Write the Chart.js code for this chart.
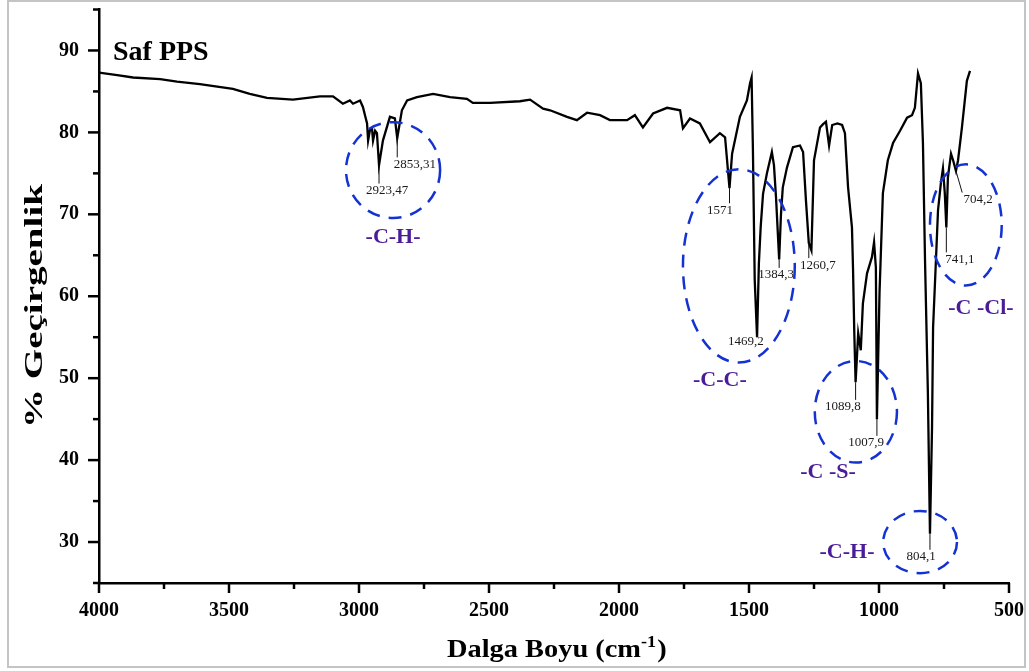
<!DOCTYPE html>
<html>
<head>
<meta charset="utf-8">
<script src="https://cdn.jsdelivr.net/npm/chart.js@4/dist/chart.umd.min.js"></script>
<style>
  html, body { margin: 0; padding: 0; background: #fff; }
  #chartBox { width: 1029px; height: 671px; }
</style>
</head>
<body>
<div id="chartBox"><canvas id="ftirChart" width="1029" height="671"></canvas></div>
<script>
// Spectrum (wavenumber in cm-1, transmittance in %)
var wavenumbers = [
  4000, 3930, 3869, 3765, 3700, 3612, 3485, 3420, 3354, 3254, 3150, 3100, 3062, 3035, 3023,
  2996, 2985, 2969, 2965, 2958, 2950, 2946, 2938, 2931, 2923, 2908, 2881, 2862, 2853, 2835,
  2815, 2777, 2715, 2650, 2585, 2562, 2496, 2381, 2342, 2292, 2265, 2200, 2162, 2123, 2073,
  2035, 1969, 1939, 1908, 1869, 1815, 1765, 1754, 1727, 1689, 1650, 1612, 1592, 1575, 1565,
  1535, 1508, 1496, 1490, 1485, 1478, 1469, 1462, 1455, 1446, 1431, 1412, 1404, 1396, 1384,
  1377, 1370, 1354, 1331, 1304, 1292, 1281, 1270, 1260, 1250, 1227, 1215, 1204, 1192, 1180,
  1160, 1142, 1131, 1119, 1104, 1100, 1095, 1090, 1080, 1070, 1062, 1046, 1027, 1019, 1012,
  1008, 998, 985, 966, 946, 919, 892, 873, 862, 850, 839, 831, 823, 812, 804,
  796, 792, 781, 773, 762, 754, 747, 741, 735, 723, 715, 704, 696, 681, 662, 650
];
var transmittance = [
  87.3, 87.0, 86.7, 86.5, 86.2, 85.9, 85.3, 84.7, 84.2, 84.0, 84.4, 84.4, 83.5, 83.9, 83.5,
  83.9, 83.1, 81.1, 79.0, 80.3, 80.5, 79.0, 80.2, 79.9, 76.0, 79.0, 81.9, 81.7, 79.3, 82.7,
  83.9, 84.3, 84.7, 84.3, 84.1, 83.6, 83.6, 83.8, 84.0, 82.9, 82.7, 81.9, 81.5, 82.4, 82.1,
  81.5, 81.5, 82.1, 80.6, 82.3, 83.0, 82.7, 80.5, 81.7, 81.1, 78.8, 79.9, 79.4, 73.2, 77.4,
  81.9, 83.9, 86.0, 86.7, 78.0, 62.0, 55.0, 64.0, 68.5, 72.5, 75.0, 77.6, 76.0, 72.0, 64.5,
  70.0, 73.3, 75.7, 78.2, 78.4, 77.6, 71.7, 66.5, 65.6, 76.6, 80.6, 81.0, 81.3, 78.4, 80.9,
  81.1, 80.9, 79.9, 73.3, 68.4, 63.5, 55.5, 49.5, 55.5, 53.4, 59.1, 62.8, 64.8, 66.6, 63.5,
  45.0, 60.4, 72.6, 76.6, 78.7, 80.2, 81.8, 82.1, 83.0, 87.2, 86.0, 78.7, 64.4, 48.2, 31.0,
  44.0, 56.2, 64.4, 70.5, 73.8, 75.6, 72.6, 68.4, 74.5, 77.4, 76.6, 75.3, 76.6, 80.6, 86.3, 87.5
];

// Axis settings
var xMin = 500, xMax = 4000, xStep = 500, xMinorStep = 250;
var yMin = 25, yMax = 95, yStep = 5, yLabelStep = 10;

// Peak labels: text, dip wavenumber, dip %T, label wavenumber, label %T, leader end wavenumber
var peakText  = ['2923,47', '2853,31', '1571', '1469,2', '1384,3', '1260,7', '1089,8', '1007,9', '804,1', '741,1', '704,2'];
var peakDipX  = [2923, 2853, 1575, 1469, 1384, 1270, 1090, 1008, 804, 741, 704];
var peakDipY  = [76.0, 79.3, 73.2, 55.0, 64.5, 66.5, 49.5, 45.0, 31.0, 68.4, 75.3];
var peakLabX  = [2892, 2785, 1612, 1512, 1396, 1235, 1139, 1050, 838, 689, 619];
var peakLabY  = [72.9, 76.1, 70.5, 54.5, 62.6, 63.8, 46.5, 42.1, 28.2, 64.5, 71.8];
var peakLineX = [2923, 2853, 1575, 1469, 1384, 1270, 1090, 1008, 804, 741, 680];

// Dashed ellipses (centre and radii in axis units) with group names
var groupText = ['-C-H-', '-C-C-', '-C -S-', '-C-H-', '-C -Cl-'];
var ellCx = [2869, 1539, 1089, 842, 666];
var ellCy = [75.4, 63.7, 45.9, 30.0, 68.7];
var ellRx = [181, 215, 158, 142, 138];
var ellRy = [5.85, 11.8, 6.2, 3.8, 7.4];
var groupX = [2869, 1612, 1196, 1123, 608];
var groupY = [67.2, 49.8, 38.5, 28.8, 58.5];

var serif = '"Liberation Serif", "Times New Roman", serif';

var points = wavenumbers.map(function(w, i) { return { x: w, y: transmittance[i] }; });

// draw text squeezed/stretched horizontally
function stretchText(ctx, text, x, y, sx) {
  ctx.save();
  ctx.translate(x, y);
  ctx.scale(sx, 1);
  ctx.fillText(text, 0, 0);
  ctx.restore();
}

var framePlugin = {
  id: 'frame',
  beforeDraw: function(chart) {
    var ctx = chart.ctx;
    ctx.save();
    ctx.fillStyle = '#fff';
    ctx.fillRect(0, 0, chart.width, chart.height);
    ctx.strokeStyle = '#c4c4c4';
    ctx.lineWidth = 2;
    ctx.strokeRect(8, 1, 1017, 666);
    ctx.restore();
  }
};

var decorPlugin = {
  id: 'decor',
  afterDraw: function(chart) {
    var ctx = chart.ctx;
    var xs = chart.scales.x, ys = chart.scales.y;
    var area = chart.chartArea;
    ctx.save();

    // tick marks (outside, major + minor)
    ctx.strokeStyle = '#000';
    ctx.lineWidth = 2.5;
    for (var v = xMin; v <= xMax; v += xMinorStep) {
      var px = xs.getPixelForValue(v);
      var len = (v % xStep === 0) ? 10 : 6;
      ctx.beginPath();
      ctx.moveTo(px, area.bottom);
      ctx.lineTo(px, area.bottom + len);
      ctx.stroke();
    }
    for (var t = yMin; t <= yMax; t += yStep) {
      var py = ys.getPixelForValue(t);
      var l = (t % yLabelStep === 0) ? 11 : 6;
      ctx.beginPath();
      ctx.moveTo(area.left, py);
      ctx.lineTo(area.left - l, py);
      ctx.stroke();
    }

    // axis titles
    ctx.fillStyle = '#000';
    ctx.font = 'bold 26px ' + serif;
    ctx.textAlign = 'center';
    ctx.textBaseline = 'middle';
    var yTitle = '% Geçirgenlik';
    var yw = ctx.measureText(yTitle).width;
    ctx.save();
    ctx.translate(35, 306);
    ctx.rotate(-Math.PI / 2);
    ctx.scale(244 / yw, 1);
    ctx.fillText(yTitle, 0, 0);
    ctx.restore();

    ctx.textAlign = 'left';
    ctx.textBaseline = 'alphabetic';
    ctx.font = 'bold 25px ' + serif;
    var part1 = 'Dalga Boyu (cm';
    var w1 = ctx.measureText(part1).width;
    var sx = 194 / w1;
    stretchText(ctx, part1, 447, 657, sx);
    ctx.font = 'bold 16px ' + serif;
    var sup = '-1';
    var w2 = ctx.measureText(sup).width;
    stretchText(ctx, sup, 447 + w1 * sx, 647, sx);
    ctx.font = 'bold 25px ' + serif;
    stretchText(ctx, ')', 447 + w1 * sx + w2 * sx + 1, 657, sx);

    // sample name
    ctx.font = 'bold 28px ' + serif;
    ctx.fillText('Saf PPS', 113, 60);

    // leader lines and peak labels
    ctx.lineWidth = 1;
    ctx.strokeStyle = '#111';
    ctx.font = '13px ' + serif;
    ctx.textAlign = 'center';
    ctx.textBaseline = 'middle';
    ctx.fillStyle = '#1a1a1a';
    for (var i = 0; i < peakText.length; i++) {
      var dx = xs.getPixelForValue(peakDipX[i]);
      var dy = ys.getPixelForValue(peakDipY[i]);
      var lx = xs.getPixelForValue(peakLabX[i]);
      var ly = ys.getPixelForValue(peakLabY[i]);
      var ex = xs.getPixelForValue(peakLineX[i]);
      ctx.beginPath();
      ctx.moveTo(dx, dy);
      ctx.lineTo(ex, ly - 7);
      ctx.stroke();
      ctx.fillText(peakText[i], lx, ly);
    }

    // dashed ellipses
    ctx.strokeStyle = '#1432d2';
    ctx.lineWidth = 2.5;
    ctx.setLineDash([13, 9]);
    for (var k = 0; k < ellCx.length; k++) {
      var cx = xs.getPixelForValue(ellCx[k]);
      var cy = ys.getPixelForValue(ellCy[k]);
      var rx = Math.abs(xs.getPixelForValue(ellCx[k] - ellRx[k]) - cx);
      var ry = Math.abs(ys.getPixelForValue(ellCy[k] + ellRy[k]) - cy);
      ctx.beginPath();
      ctx.ellipse(cx, cy, rx, ry, 0, 0, Math.PI * 2);
      ctx.stroke();
    }
    ctx.setLineDash([]);

    // group names
    ctx.font = 'bold 22px ' + serif;
    ctx.fillStyle = '#4a1c98';
    for (var g = 0; g < groupText.length; g++) {
      ctx.fillText(groupText[g], xs.getPixelForValue(groupX[g]), ys.getPixelForValue(groupY[g]));
    }

    ctx.restore();
  }
};

var ctx = document.getElementById('ftirChart').getContext('2d');
var chart = new Chart(ctx, {
  type: 'line',
  data: {
    datasets: [{
      label: 'Saf PPS',
      data: points,
      borderColor: '#000',
      borderWidth: 2.3,
      pointRadius: 0,
      tension: 0,
      fill: false
    }]
  },
  options: {
    responsive: false,
    animation: false,
    devicePixelRatio: 1,
    layout: { padding: { top: 9.5, right: 20, bottom: 0, left: 0 } },
    plugins: {
      legend: { display: false },
      tooltip: { enabled: false }
    },
    scales: {
      x: {
        type: 'linear',
        reverse: true,
        min: xMin,
        max: xMax,
        afterFit: function(s) {
          s.height = 88;
          s.paddingLeft = 0; s.paddingRight = 0;
        },
        grid: { display: false, drawTicks: false },
        border: { display: true, color: '#000', width: 2.5 },
        ticks: {
          stepSize: xStep,
          maxRotation: 0,
          padding: 16,
          color: '#000',
          font: { family: serif, size: 20, weight: 'bold' },
          callback: function(value) { return String(value); }
        }
      },
      y: {
        min: yMin,
        max: yMax,
        afterFit: function(s) {
          s.width = 99;
          s.paddingTop = 0; s.paddingBottom = 0;
        },
        grid: { display: false, drawTicks: false },
        border: { display: true, color: '#000', width: 2.5 },
        ticks: {
          stepSize: yStep,
          padding: 20,
          color: '#000',
          font: { family: serif, size: 20, weight: 'bold' },
          callback: function(value) { return value % yLabelStep === 0 ? String(value) : ''; }
        }
      }
    }
  },
  plugins: [framePlugin, decorPlugin]
});
</script>
</body>
</html>
